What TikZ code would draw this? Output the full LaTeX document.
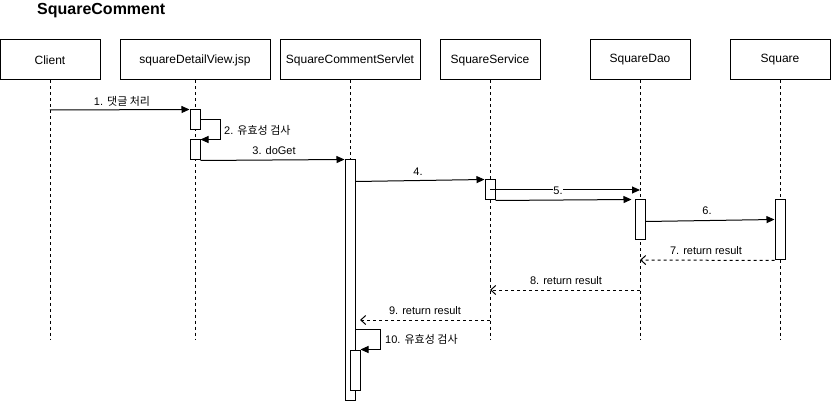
\documentclass[tikz,border=0pt]{standalone}
\usepackage{fontspec}
\setmainfont{Liberation Sans}
\newfontfamily\kr{Noto Sans CJK KR}
\usetikzlibrary{arrows.meta,calc}

\tikzset{
  lbox/.style={draw, line width=1pt, fill=white, minimum height=40pt,
    inner sep=0pt, font=\fontsize{12pt}{14pt}\selectfont},
  lifeline/.style={line width=1pt, dash pattern=on 3pt off 3pt},
  actbar/.style={draw, line width=1pt, fill=white, minimum width=10pt, inner sep=0pt},
  msg/.style={line width=1pt, -{Triangle[length=8pt,width=7pt]}},
  reply/.style={line width=1pt, dash pattern=on 3pt off 3pt,
    -{Straight Barb[length=5pt,width=9pt,line width=1pt]}},
  lbl/.style={font=\fontsize{11pt}{13pt}\selectfont, inner sep=1pt},
}

\begin{document}
\begin{tikzpicture}[x=1pt,y=-1pt]
  \useasboundingbox (0,0) rectangle (831,401);

  % title
  \node[anchor=west, inner sep=0pt, font=\fontsize{16pt}{18pt}\selectfont\bfseries] (title) at (37,11) {SquareComment};

  % participants
  \node[lbox, minimum width=100pt] (client)  at (50,60)  {Client};
  \node[lbox, minimum width=150pt] (jsp)     at (195,60) {squareDetailView.jsp};
  \node[lbox, minimum width=140pt] (servlet) at (350,60) {SquareCommentServlet};
  \node[lbox, minimum width=100pt] (service) at (490,60) {SquareService};
  \node[lbox, minimum width=100pt] (dao)     at (640,60) {SquareDao};
  \node[lbox, minimum width=100pt] (square)  at (780,60) {Square};

  % lifeline ends
  \coordinate (clientEnd)  at (50,340);
  \coordinate (jspEnd)     at (195,340);
  \coordinate (servletEnd) at (350,340);
  \coordinate (serviceEnd) at (490,340);
  \coordinate (daoEnd)     at (640,340);
  \coordinate (squareEnd)  at (780,340);

  \draw[lifeline] (client.south)  -- (clientEnd);
  \draw[lifeline] (jsp.south)     -- (jspEnd);
  \draw[lifeline] (servlet.south) -- (servletEnd);
  \draw[lifeline] (service.south) -- (serviceEnd);
  \draw[lifeline] (dao.south)     -- (daoEnd);
  \draw[lifeline] (square.south)  -- (squareEnd);

  % activation bars
  \node[actbar, minimum height=20pt]  (jspA1)  at (195,120) {};
  \node[actbar, minimum height=20pt]  (jspA2)  at (195,150) {};
  \node[actbar, minimum height=240pt] (servA)  at (350,280) {};
  \node[actbar, minimum height=40pt]  (servA2) at (355,370) {};
  \node[actbar, minimum height=20pt]  (srvA)   at (490,190) {};
  \node[actbar, minimum height=40pt]  (daoA)   at (640,220) {};
  \node[actbar, minimum height=60pt]  (sqA)    at (780,230) {};

  % message anchor points
  \coordinate (m1s) at (50,110);
  \coordinate (m5e) at (640,190);
  \coordinate (m7e) at (640,260);
  \coordinate (m8s) at (640,290);
  \coordinate (m8e) at (490,290);
  \coordinate (m9s) at (490,320);
  \coordinate (m9e) at (360,320);

  % 1
  \draw[msg] (m1s) -- (jspA1.north west);
  \node[lbl] (l1) at (122,101) {1. {\kr 댓글 처리}};
  % 2 (self call)
  \draw[msg] (jspA1.east) -- ++(20,0) |- (jspA2.north east);
  \node[lbl, anchor=west] (l2) at (223,130) {2. {\kr 유효성 검사}};
  % 3
  \draw[msg] (jspA2.south east) -- (servA.north west);
  \node[lbl] (l3) at (274,151) {3. doGet};
  % 4
  \draw[msg] ($(servA.north east)+(0,22)$) -- (srvA.north west);
  \node[lbl] (l4) at (418,172) {4.};
  % 5
  \draw[msg] (srvA.center) -- (m5e);
  \draw[msg] (srvA.south east) -- ($(daoA.north west)+(-3,0)$);
  \node[lbl, fill=white, inner sep=0.5pt] (l5) at (558,191) {5.};
  % 6
  \draw[msg] ($(daoA.north east)+(0,22)$) -- ($(sqA.north west)+(0,20)$);
  \node[lbl] (l6) at (707,211) {6.};
  % 7
  \draw[reply] (sqA.south west) -- (m7e);
  \node[lbl] (l7) at (706,251) {7. return result};
  % 8
  \draw[reply] (m8s) -- (m8e);
  \node[lbl] (l8) at (566,281) {8. return result};
  % 9
  \draw[reply] (m9s) -- (m9e);
  \node[lbl] (l9) at (425,311) {9. return result};
  % 10 (self call)
  \draw[msg] ($(servA.north east)+(0,170)$) -- ++(25,0) |- (servA2.north east);
  \node[lbl, anchor=west] (l10) at (384,339) {10. {\kr 유효성 검사}};
\end{tikzpicture}
\end{document}
